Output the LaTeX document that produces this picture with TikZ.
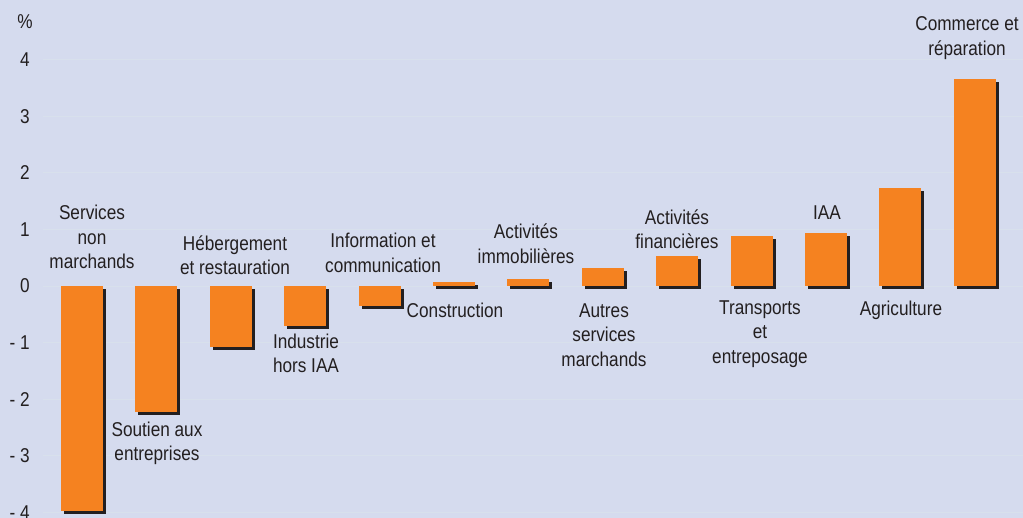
\documentclass[tikz,border=0pt]{standalone}
\usepackage{fontspec}
\setmainfont{Liberation Sans}[FakeStretch=0.86]
\definecolor{bg}{HTML}{D5DBEE}
\definecolor{gridc}{HTML}{D8E0EC}
\definecolor{barc}{HTML}{F58220}
\definecolor{shad}{HTML}{231F20}
\definecolor{txt}{HTML}{231F20}
\begin{document}
\begin{tikzpicture}[x=1pt,y=-1pt,
  lbl/.style={font=\fontsize{20}{24.5}\selectfont, text=txt, align=center, inner sep=0pt},
  ticklbl/.style={font=\fontsize{20}{24.5}\selectfont, text=txt, inner sep=0pt, anchor=east},
  gridline/.style={draw=gridc, line width=0.8pt},
  barfill/.style={fill=barc},
  barshadow/.style={fill=shad}]
\fill[bg] (0,0) rectangle (1023,518);
\useasboundingbox (0,0) rectangle (1023,518);
% grid and tick labels
\foreach \t/\s in {4/4,3/3,2/2,1/1,0/0,-1/- 1,-2/- 2,-3/- 3,-4/- 4}{
  \pgfmathsetmacro{\yy}{286-56.6*\t}
  \draw[gridline] (43,\yy) -- (1023,\yy);
  \node[ticklbl] (tick\t) at (30,\yy) {\s};
}
\node[lbl] (pct) at (25,21.5) {\%};
% bars
\foreach \i/\v in {0/-3.98,1/-2.22,2/-1.08,3/-0.71,4/-0.35,5/0.07,6/0.12,7/0.32,8/0.53,9/0.88,10/0.94,11/1.73,12/3.65}{
  \pgfmathsetmacro{\xx}{61+74.4*\i}
  \pgfmathsetmacro{\yy}{286-56.6*\v}
  \fill[barshadow] (\xx+3,289) rectangle (\xx+45,\yy+3);
  \fill[barfill] (\xx,286) rectangle (\xx+42,\yy);
}
% labels
\node[lbl] (l1) at (92,237) {Services\\non\\marchands};
\node[lbl] (l2) at (157,443.5) {Soutien aux\\entreprises};
\node[lbl] (l3) at (235,255) {Hébergement\\et restauration};
\node[lbl] (l4) at (306,353.5) {Industrie\\hors IAA};
\node[lbl] (l5) at (383,253) {Information et\\communication};
\node[lbl] (l6) at (455,310) {Construction};
\node[lbl] (l7) at (526,243.5) {Activités\\immobilières};
\node[lbl] (l8) at (604,335) {Autres\\services\\marchands};
\node[lbl] (l9) at (677,229) {Activités\\financières};
\node[lbl] (l10) at (760,334) {Transports\\et\\entreposage};
\node[lbl] (l11) at (827,213) {IAA};
\node[lbl] (l12) at (901,310) {Agriculture};
\node[lbl] (l13) at (967,38) {Commerce et\\réparation};
\end{tikzpicture}
\end{document}
